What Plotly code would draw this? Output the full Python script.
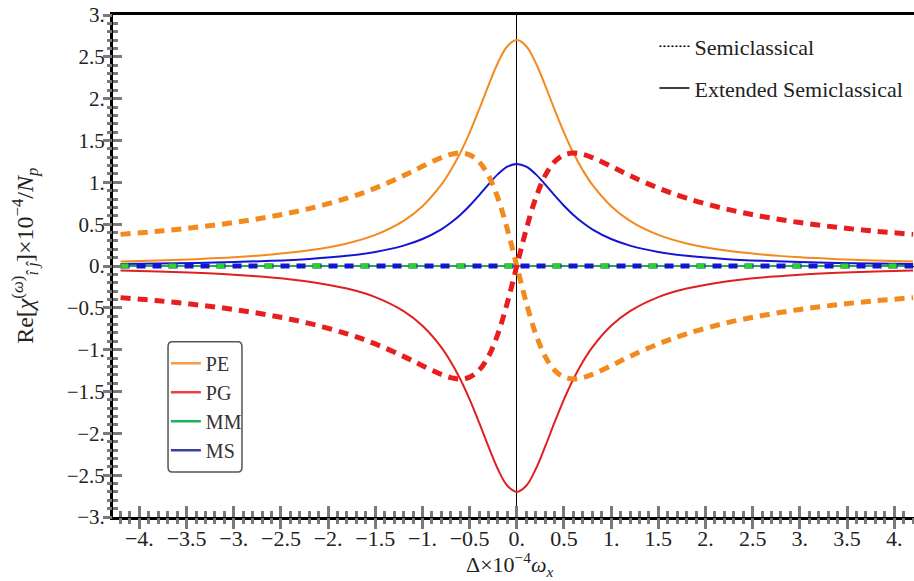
import plotly.graph_objects as go

# ---------------- data ----------------
x_vals = [-4.2, -3.8, -3.4, -3.0, -2.6, -2.2, -1.8, -1.5, -1.2, -1.0, -0.8, -0.7, -0.6,
          -0.5, -0.4, -0.3, -0.2, -0.1, 0.0, 0.1, 0.2, 0.3, 0.4, 0.5, 0.6, 0.7, 0.8,
          1.0, 1.2, 1.5, 1.8, 2.2, 2.6, 3.0, 3.4, 3.8, 4.2]

# Extended semiclassical (solid)
pe_ext = [0.054, 0.066, 0.082, 0.104, 0.137, 0.187, 0.27, 0.372, 0.54, 0.715, 0.972, 1.144, 1.35,
          1.594, 1.87, 2.16, 2.43, 2.627, 2.70, 2.627, 2.43, 2.16, 1.87, 1.594, 1.35, 1.144, 0.972,
          0.715, 0.54, 0.372, 0.27, 0.187, 0.137, 0.104, 0.082, 0.066, 0.054]
pg_ext = [-0.054, -0.066, -0.082, -0.104, -0.137, -0.187, -0.27, -0.372, -0.54, -0.715, -0.972, -1.144, -1.35,
          -1.594, -1.87, -2.16, -2.43, -2.627, -2.70, -2.627, -2.43, -2.16, -1.87, -1.594, -1.35, -1.144, -0.972,
          -0.715, -0.54, -0.372, -0.27, -0.187, -0.137, -0.104, -0.082, -0.066, -0.054]
ms_ext = [0.024, 0.030, 0.037, 0.047, 0.062, 0.085, 0.122, 0.168, 0.244, 0.323, 0.439, 0.517, 0.61,
          0.72, 0.845, 0.976, 1.098, 1.187, 1.22, 1.187, 1.098, 0.976, 0.845, 0.72, 0.61, 0.517, 0.439,
          0.323, 0.244, 0.168, 0.122, 0.085, 0.062, 0.047, 0.037, 0.030, 0.024]
mm_ext = [0.0] * len(x_vals)

# Semiclassical (dashed)
pe_semi = [0.378, 0.416, 0.462, 0.519, 0.592, 0.686, 0.81, 0.931, 1.08, 1.191, 1.296, 1.334, 1.35,
           1.328, 1.246, 1.08, 0.81, 0.438, 0.0, -0.438, -0.81, -1.08, -1.246, -1.328, -1.35, -1.334, -1.296,
           -1.191, -1.08, -0.931, -0.81, -0.686, -0.592, -0.519, -0.462, -0.416, -0.378]
pg_semi = [-0.378, -0.416, -0.462, -0.519, -0.592, -0.686, -0.81, -0.931, -1.08, -1.191, -1.296, -1.334, -1.35,
           -1.328, -1.246, -1.08, -0.81, -0.438, 0.0, 0.438, 0.81, 1.08, 1.246, 1.328, 1.35, 1.334, 1.296,
           1.191, 1.08, 0.931, 0.81, 0.686, 0.592, 0.519, 0.462, 0.416, 0.378]
mm_semi = [0.0] * len(x_vals)
ms_semi = [0.0] * len(x_vals)

x_tickvals = [-4, -3.5, -3, -2.5, -2, -1.5, -1, -0.5, 0, 0.5, 1, 1.5, 2, 2.5, 3, 3.5, 4]
x_ticktext = ["−4.", "−3.5", "−3.", "−2.5", "−2.", "−1.5", "−1.", "−0.5", "0.", "0.5", "1.",
              "1.5", "2.", "2.5", "3.", "3.5", "4."]
y_tickvals = [-3, -2.5, -2, -1.5, -1, -0.5, 0, 0.5, 1, 1.5, 2, 2.5, 3]
y_ticktext = ["−3.", "−2.5", "−2.", "−1.5", "−1.", "−0.5", "0.", "0.5", "1.", "1.5", "2.", "2.5", "3."]

x_title = "Δ×10<sup>−4</sup><i>ω<sub>x</sub></i>"
y_title = "Re[<i>χ</i><sup>(<i>ω</i>)</sup><sub><i>î ĵ</i></sub>]×10<sup>−4</sup>/<i>N<sub>p</sub></i>"

# ---------------- styling ----------------
ORANGE = "#F28A1E"
RED = "#E81E1E"
BLUE = "#1414D2"
GREEN = "#2ED22E"
FONT = "'Liberation Serif', 'DejaVu Serif', serif"
TXT = "#222"
TICKC = "#7a7a7a"

fig = go.Figure()

# solid (extended semiclassical)
fig.add_trace(go.Scatter(x=x_vals, y=pe_ext, mode="lines", line=dict(color=ORANGE, width=2, shape="spline"),
                         showlegend=False, hoverinfo="skip"))
fig.add_trace(go.Scatter(x=x_vals, y=pg_ext, mode="lines", line=dict(color="#E02020", width=2, shape="spline"),
                         showlegend=False, hoverinfo="skip"))
fig.add_trace(go.Scatter(x=x_vals, y=ms_ext, mode="lines", line=dict(color=BLUE, width=2, shape="spline"),
                         showlegend=False, hoverinfo="skip"))
fig.add_trace(go.Scatter(x=x_vals, y=mm_ext, mode="lines", line=dict(color="#22AA44", width=2),
                         showlegend=False, hoverinfo="skip"))

# dashed (semiclassical)
fig.add_trace(go.Scatter(x=x_vals, y=pe_semi, mode="lines",
                         line=dict(color=ORANGE, width=5, dash="10px,7px", shape="spline"),
                         showlegend=False, hoverinfo="skip"))
fig.add_trace(go.Scatter(x=x_vals, y=pg_semi, mode="lines",
                         line=dict(color=RED, width=5, dash="10px,7px", shape="spline"),
                         showlegend=False, hoverinfo="skip"))
fig.add_trace(go.Scatter(x=x_vals, y=ms_semi, mode="lines",
                         line=dict(color=BLUE, width=5, dash="9px,7px"),
                         showlegend=False, hoverinfo="skip"))
fig.add_trace(go.Scatter(x=x_vals, y=mm_semi, mode="lines",
                         line=dict(color=GREEN, width=5, dash="8px,40px"),
                         showlegend=False, hoverinfo="skip"))

# legend 1: line styles
fig.add_trace(go.Scatter(x=[None], y=[None], mode="lines", name="Semiclassical",
                         line=dict(color="black", width=1.5, dash="2px,2px"),
                         legend="legend", legendgroup="a"))
fig.add_trace(go.Scatter(x=[None], y=[None], mode="lines", name="Extended Semiclassical",
                         line=dict(color="black", width=1.5),
                         legend="legend", legendgroup="b"))

# legend 2: series colours
for nm, col in [("PE", "#F59A45"), ("PG", "#E8413F"), ("MM", "#1DAF5C"), ("MS", "#3B3F9C")]:
    fig.add_trace(go.Scatter(x=[None], y=[None], mode="lines", name=nm,
                             line=dict(color=col, width=2.5), legend="legend2", legendgroup=nm))

# helper invisible trace so the overlay axes (outside tick halves) render
fig.add_trace(go.Scatter(x=[0], y=[0], xaxis="x2", yaxis="y2", mode="markers",
                         marker=dict(opacity=0), showlegend=False, hoverinfo="skip"))

fig.update_layout(
    width=914, height=581,
    margin=dict(l=113, r=0, t=15, b=64),
    paper_bgcolor="white", plot_bgcolor="white",
    font=dict(family=FONT, size=18, color=TXT),
    # main axes: inside tick halves + labels
    xaxis=dict(range=[-4.28, 4.21], tickvals=x_tickvals, ticktext=x_ticktext,
               ticks="inside", ticklen=11, tickcolor=TICKC, tickwidth=2.5, ticklabelstandoff=0,
               minor=dict(dtick=0.1, ticks="inside", ticklen=6, tickcolor=TICKC, tickwidth=2.5),
               showline=True, linecolor="black", linewidth=3, mirror=True,
               zeroline=True, zerolinecolor="black", zerolinewidth=1,
               showgrid=False, tickfont=dict(family=FONT, size=22, color=TXT)),
    yaxis=dict(range=[-3, 3], tickvals=y_tickvals, ticktext=y_ticktext,
               ticks="inside", ticklen=9, tickcolor=TICKC, tickwidth=2.5, ticklabelstandoff=1,
               minor=dict(dtick=0.1, ticks="inside", ticklen=5, tickcolor=TICKC, tickwidth=2.5),
               showline=True, linecolor="black", linewidth=3,
               zeroline=True, zerolinecolor="black", zerolinewidth=1,
               showgrid=False, tickfont=dict(family=FONT, size=21, color=TXT)),
    # overlay axes: outside tick halves only
    xaxis2=dict(overlaying="x", matches="x", anchor="y", side="bottom",
                range=[-4.28, 4.21], tickvals=x_tickvals, showticklabels=False,
                ticks="outside", ticklen=11, tickcolor=TICKC, tickwidth=2.5,
                minor=dict(dtick=0.1, ticks="outside", ticklen=6, tickcolor=TICKC, tickwidth=2.5),
                showline=False, zeroline=False, showgrid=False),
    yaxis2=dict(overlaying="y", matches="y", anchor="x", side="left",
                range=[-3, 3], tickvals=y_tickvals, showticklabels=False,
                ticks="outside", ticklen=9, tickcolor=TICKC, tickwidth=2.5,
                minor=dict(dtick=0.1, ticks="outside", ticklen=5, tickcolor=TICKC, tickwidth=2.5),
                showline=False, zeroline=False, showgrid=False),
    legend=dict(x=0.676, y=0.979, xanchor="left", yanchor="top", bgcolor="rgba(0,0,0,0)",
                font=dict(family=FONT, size=22, color=TXT), tracegroupgap=10,
                itemwidth=30, traceorder="grouped"),
    legend2=dict(x=0.066, y=0.345, xanchor="left", yanchor="top", bgcolor="rgba(0,0,0,0)",
                 font=dict(family=FONT, size=20, color="#333"), tracegroupgap=0,
                 itemwidth=30, traceorder="grouped"),
    annotations=[
        dict(text=x_title, xref="paper", yref="paper", x=0.496, y=-0.094,
             xanchor="center", yanchor="middle", showarrow=False,
             font=dict(family=FONT, size=22, color=TXT)),
        dict(text=y_title, xref="paper", yref="paper", x=-0.11, y=0.52, textangle=-90,
             xanchor="center", yanchor="middle", showarrow=False,
             font=dict(family=FONT, size=24, color=TXT)),
    ],
    shapes=[dict(type="path", xref="paper", yref="paper",
                 path="M 0.0737 0.349 L 0.156 0.349 Q 0.161 0.349 0.161 0.339 L 0.161 0.0996 "
                      "Q 0.161 0.0896 0.156 0.0896 L 0.0737 0.0896 Q 0.0687 0.0896 0.0687 0.0996 "
                      "L 0.0687 0.339 Q 0.0687 0.349 0.0737 0.349 Z",
                 line=dict(color="#555", width=1.5), fillcolor="rgba(0,0,0,0)", layer="above")],
)

fig.write_html("out.html")
